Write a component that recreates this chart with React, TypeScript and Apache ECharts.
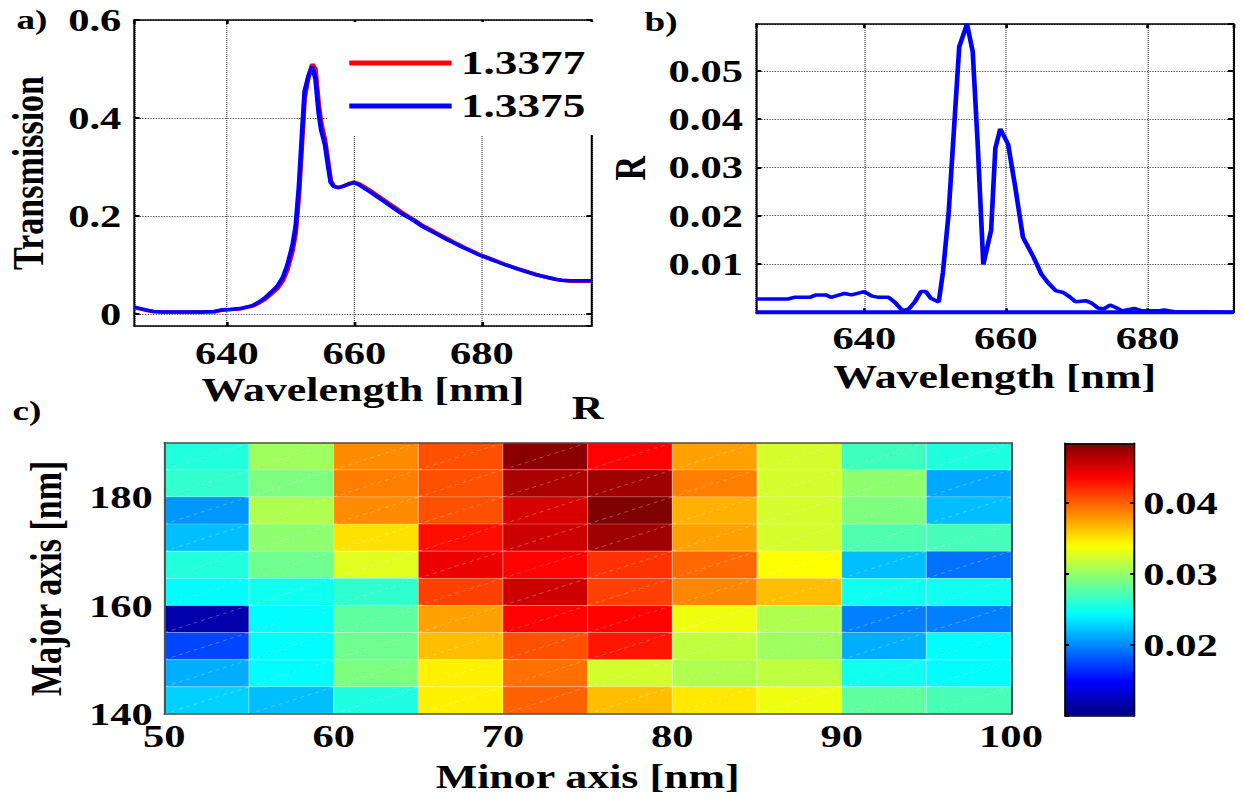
import React, { useEffect, useRef } from 'react';
import * as echarts from 'echarts';

// ---------- data ----------
const wavelengthA = [625.5, 626.5, 627.5, 628.5, 630, 632, 634, 636, 638, 639, 640.5, 642, 643, 644, 645, 646, 647, 648, 648.8, 649.5, 650.3, 650.8, 651.3, 651.8, 652.2, 652.8, 653.4, 653.9, 654.4, 654.8, 655.4, 655.9, 656.3, 656.8, 657.5, 658.3, 659.1, 659.9, 660.7, 661.5, 662.5, 663.5, 664.5, 665.5, 666.5, 667.5, 668.5, 669.5, 670.5, 671.5, 672.5, 673.5, 674.5, 675.5, 676.5, 677.5, 678.5, 679.5, 680.5, 681.5, 682.5, 683.5, 684.5, 685.5, 686.5, 687.5, 688.5, 689.5, 690.5, 691.5, 692.5, 694, 697.2];
const transmission13377 = [0.013, 0.010, 0.007, 0.005, 0.004, 0.004, 0.004, 0.004, 0.004, 0.007, 0.009, 0.010, 0.013, 0.016, 0.022, 0.030, 0.041, 0.053, 0.068, 0.090, 0.128, 0.165, 0.240, 0.350, 0.440, 0.485, 0.510, 0.500, 0.430, 0.390, 0.355, 0.310, 0.272, 0.261, 0.258, 0.261, 0.266, 0.269, 0.266, 0.260, 0.252, 0.243, 0.234, 0.225, 0.216, 0.207, 0.199, 0.191, 0.182, 0.175, 0.168, 0.161, 0.154, 0.147, 0.141, 0.134, 0.128, 0.122, 0.117, 0.112, 0.107, 0.102, 0.097, 0.093, 0.089, 0.085, 0.081, 0.077, 0.074, 0.071, 0.069, 0.067, 0.067];
const transmission13375 = [0.014, 0.011, 0.008, 0.005, 0.004, 0.004, 0.004, 0.004, 0.005, 0.008, 0.009, 0.011, 0.014, 0.017, 0.024, 0.033, 0.045, 0.058, 0.075, 0.100, 0.140, 0.180, 0.260, 0.370, 0.455, 0.485, 0.505, 0.480, 0.410, 0.375, 0.345, 0.300, 0.268, 0.260, 0.258, 0.261, 0.265, 0.268, 0.264, 0.257, 0.249, 0.240, 0.231, 0.222, 0.213, 0.204, 0.197, 0.189, 0.180, 0.173, 0.166, 0.159, 0.152, 0.146, 0.139, 0.133, 0.127, 0.121, 0.116, 0.111, 0.106, 0.101, 0.097, 0.092, 0.088, 0.084, 0.080, 0.077, 0.074, 0.071, 0.069, 0.068, 0.068];
const legendNames = ['1.3377', '1.3375'];

const wavelengthB = [624.7, 629.2, 630.1, 632.3, 633.2, 634.6, 635.3, 637.2, 638.2, 640.0, 641.0, 642.0, 643.4, 644.3, 645.4, 646.3, 647.1, 648.0, 648.7, 649.4, 650.5, 651.1, 651.9, 653.4, 654.5, 655.3, 656.0, 656.8, 657.9, 658.5, 659.2, 660.3, 661.3, 662.4, 663.8, 665.0, 665.9, 667.0, 668.1, 669.0, 669.8, 671.3, 672.1, 673.0, 673.8, 674.7, 675.5, 676.4, 678.1, 679.2, 681.5, 682.3, 683.8, 692.1];
const reflectanceB = [0.00275, 0.00275, 0.0031, 0.0031, 0.0036, 0.0036, 0.0031, 0.0039, 0.0036, 0.0043, 0.0034, 0.0031, 0.0031, 0.0021, 0.0003, 0.0007, 0.0021, 0.0043, 0.0043, 0.0029, 0.0021, 0.0083, 0.0205, 0.055, 0.0597, 0.054, 0.035, 0.0099, 0.017, 0.034, 0.038, 0.0348, 0.026, 0.0155, 0.0117, 0.0079, 0.0062, 0.0045, 0.0041, 0.0032, 0.0022, 0.0024, 0.0019, 0.0009, 0.0007, 0.0015, 0.001, 0.0003, 0.0008, 0.0003, 0.0003, 0.0005, 0.0001, 0];
const baselineWavelength = [624.7, 692.1];
const baselineR = [0, 0];

const minorAxisStart = [50, 55, 60, 65, 70, 75, 80, 85, 90, 95];
const majorAxisStart = [185, 180, 175, 170, 165, 160, 155, 150, 145, 140];
const CELL = 5;
const heatR = [
  [0.0257, 0.0304, 0.0383, 0.0405, 0.0479, 0.0435, 0.0375, 0.0323, 0.0268, 0.0256],
  [0.0263, 0.0292, 0.0388, 0.0405, 0.0467, 0.0471, 0.0388, 0.0323, 0.0298, 0.0212],
  [0.0206, 0.0310, 0.0383, 0.0405, 0.0450, 0.0483, 0.0369, 0.0323, 0.0292, 0.0220],
  [0.0220, 0.0298, 0.0351, 0.0430, 0.0454, 0.0471, 0.0375, 0.0323, 0.0274, 0.0271],
  [0.0257, 0.0286, 0.0328, 0.0442, 0.0435, 0.0417, 0.0396, 0.0340, 0.0220, 0.0191],
  [0.0244, 0.0250, 0.0262, 0.0411, 0.0454, 0.0411, 0.0385, 0.0364, 0.0250, 0.0250],
  [0.0117, 0.0244, 0.0280, 0.0375, 0.0435, 0.0435, 0.0334, 0.0310, 0.0197, 0.0197],
  [0.0175, 0.0244, 0.0286, 0.0364, 0.0405, 0.0427, 0.0316, 0.0304, 0.0214, 0.0244],
  [0.0214, 0.0244, 0.0292, 0.0345, 0.0393, 0.0323, 0.0310, 0.0316, 0.0250, 0.0244],
  [0.0227, 0.0220, 0.0256, 0.0345, 0.0399, 0.0364, 0.0348, 0.0334, 0.0280, 0.0271],
];
const colorMin = 0.0101;
const colorMax = 0.0483;
const JET = ['#00007f', '#0000ff', '#007fff', '#00ffff', '#7fff7f', '#ffff00', '#ff7f00', '#ff0000', '#7f0000'];

// ---------- layout helpers ----------
const W = 934;
const H = 798;
const S = 1242 / W; // horizontal stretch of the original figure
const px = (x: number) => x / S;
const FONT = "'Liberation Serif', 'Times New Roman', serif";

const axisLine = (color = '#000') => ({ show: true, onZero: false, lineStyle: { color, width: 1.5 } });
const tick = { show: true, inside: true, length: 4, lineStyle: { color: '#000', width: 2 } };
const gridLines = { show: true, lineStyle: { color: '#555', type: 'dotted', width: 1 } };
const lbl = (margin: number, extra: any = {}) => ({
  show: true, fontSize: 32, fontWeight: 'bold', fontFamily: FONT, color: '#000', margin,
  showMinLabel: false, showMaxLabel: false, ...extra,
});
const nameStyle = { fontSize: 33, fontWeight: 'bold', fontFamily: FONT, color: '#000' };

export default function App() {
  const ref = useRef<HTMLDivElement>(null);
  useEffect(() => {
    const chart = echarts.init(ref.current as HTMLDivElement, null, { renderer: 'svg' });

    const heatData: number[][] = [];
    majorAxisStart.forEach((y, r) => {
      minorAxisStart.forEach((x, c) => heatData.push([x, y, heatR[r][c]]));
    });

    const option: any = {
      animation: false,
      textStyle: { fontFamily: FONT, fontWeight: 'bold', color: '#000' },
      grid: [
        { left: px(134.3), top: 20, width: px(457.4), height: 306 },
        { left: px(756), top: 24, width: px(477.3), height: 288.3 },
        { left: px(164.3), top: 442.7, width: px(846.7), height: 271.3 },
        { left: px(1065), top: 443.3, width: px(69.3), height: 272.4 },
      ],
      xAxis: [
        {
          gridIndex: 0, type: 'value', position: 'bottom', min: 625.5, max: 697.2, minInterval: 20, maxInterval: 20,
          axisLine: axisLine(), axisTick: tick, axisLabel: lbl(11), splitLine: gridLines,
          name: 'Wavelength [nm]', nameLocation: 'middle', nameGap: 47, nameTextStyle: nameStyle,
        },
        {
          gridIndex: 0, type: 'value', position: 'top', min: 625.5, max: 697.2, minInterval: 20, maxInterval: 20,
          axisLine: axisLine(), axisTick: tick, axisLabel: { show: false }, splitLine: { show: false },
        },
        {
          gridIndex: 1, type: 'value', position: 'bottom', min: 624.7, max: 692.1, minInterval: 20, maxInterval: 20,
          axisLine: axisLine(), axisTick: tick, axisLabel: lbl(10), splitLine: gridLines,
          name: 'Wavelength [nm]', nameLocation: 'middle', nameGap: 48, nameTextStyle: nameStyle,
        },
        {
          gridIndex: 1, type: 'value', position: 'top', min: 624.7, max: 692.1, minInterval: 20, maxInterval: 20,
          axisLine: axisLine(), axisTick: tick, axisLabel: { show: false }, splitLine: { show: false },
        },
        {
          gridIndex: 2, type: 'value', position: 'bottom', min: 50, max: 100, interval: 10, z: 5,
          axisLine: axisLine('#4d4d4d'), axisTick: { show: false },
          axisLabel: lbl(6, { showMinLabel: true, showMaxLabel: true }), splitLine: { show: false },
          name: 'Minor axis [nm]', nameLocation: 'middle', nameGap: 46, nameTextStyle: nameStyle,
        },
        {
          gridIndex: 2, type: 'value', position: 'top', min: 50, max: 100, interval: 10, z: 5,
          axisLine: axisLine('#4d4d4d'), axisTick: { show: false }, axisLabel: { show: false }, splitLine: { show: false },
        },
        {
          gridIndex: 3, type: 'value', position: 'bottom', min: 0, max: 1, z: 5,
          axisLine: axisLine(), axisTick: { show: false }, axisLabel: { show: false }, splitLine: { show: false },
        },
        {
          gridIndex: 3, type: 'value', position: 'top', min: 0, max: 1, z: 5,
          axisLine: axisLine(), axisTick: { show: false }, axisLabel: { show: false }, splitLine: { show: false },
        },
      ],
      yAxis: [
        {
          gridIndex: 0, type: 'value', position: 'left', min: -0.0245, max: 0.6, minInterval: 0.2, maxInterval: 0.2,
          axisLine: axisLine(), axisTick: tick, axisLabel: lbl(px(13), { showMaxLabel: true }), splitLine: gridLines,
          name: 'Transmission', nameLocation: 'middle', nameRotate: 90, nameGap: 63, nameTextStyle: { ...nameStyle, fontSize: 34 },
        },
        {
          gridIndex: 0, type: 'value', position: 'right', min: -0.0245, max: 0.6, minInterval: 0.2, maxInterval: 0.2,
          axisLine: axisLine(), axisTick: tick, axisLabel: { show: false }, splitLine: { show: false },
        },
        {
          gridIndex: 1, type: 'value', position: 'left', min: 0, max: 0.0597, minInterval: 0.01, maxInterval: 0.01,
          axisLine: axisLine(), axisTick: tick, axisLabel: lbl(px(13)), splitLine: gridLines,
          name: 'R', nameLocation: 'middle', nameRotate: 90, nameGap: 78, nameTextStyle: { ...nameStyle, fontSize: 34 },
        },
        {
          gridIndex: 1, type: 'value', position: 'right', min: 0, max: 0.0597, minInterval: 0.01, maxInterval: 0.01,
          axisLine: axisLine(), axisTick: tick, axisLabel: { show: false }, splitLine: { show: false },
        },
        {
          gridIndex: 2, type: 'value', position: 'left', min: 140, max: 190, interval: 20, z: 5,
          axisLine: axisLine('#4d4d4d'), axisTick: { show: false },
          axisLabel: lbl(px(11.6), { showMinLabel: true }), splitLine: { show: false },
          name: 'Major axis [nm]', nameLocation: 'middle', nameRotate: 90, nameGap: 72, nameTextStyle: { ...nameStyle, fontSize: 34 },
        },
        {
          gridIndex: 2, type: 'value', position: 'right', min: 140, max: 190, interval: 20, z: 5,
          axisLine: axisLine('#4d4d4d'), axisTick: { show: false }, axisLabel: { show: false }, splitLine: { show: false },
        },
        {
          gridIndex: 3, type: 'value', position: 'right', min: colorMin, max: colorMax, minInterval: 0.01, maxInterval: 0.01, z: 5,
          axisLine: axisLine(), axisTick: { show: true, inside: true, length: 3, lineStyle: { color: '#000', width: 2 } },
          axisLabel: lbl(px(9), { formatter: (v: number) => v.toFixed(2) }), splitLine: { show: false },
        },
        {
          gridIndex: 3, type: 'value', position: 'left', min: colorMin, max: colorMax, minInterval: 0.01, maxInterval: 0.01, z: 5,
          axisLine: axisLine(), axisTick: { show: true, inside: true, length: 3, lineStyle: { color: '#000', width: 2 } },
          axisLabel: { show: false }, splitLine: { show: false },
        },
      ],
      legend: {
        data: legendNames,
        orient: 'vertical',
        left: px(328), top: 22,
        padding: [24, 12, 12, 16],
        backgroundColor: '#fff',
        icon: 'rect',
        itemWidth: 77, itemHeight: 5, itemGap: 9,
        selectedMode: false,
        textStyle: { fontSize: 34, fontWeight: 'bold', fontFamily: FONT, color: '#000', padding: [0, 0, 0, 2] },
      },
      visualMap: {
        type: 'continuous', seriesIndex: 4, dimension: 2, min: colorMin, max: colorMax,
        inRange: { color: JET }, calculable: false, show: true, orient: 'vertical',
        left: px(1065), top: 443.3, itemWidth: px(69.3), itemHeight: 272.4, padding: 0,
        hoverLink: false, text: null,
      },
      series: [
        {
          name: legendNames[0], type: 'line', xAxisIndex: 0, yAxisIndex: 0, symbol: 'none',
          lineStyle: { color: '#ff0000', width: 3.5 }, itemStyle: { color: '#ff0000' },
          data: wavelengthA.map((w, i) => [w, transmission13377[i]]),
        },
        {
          name: legendNames[1], type: 'line', xAxisIndex: 0, yAxisIndex: 0, symbol: 'none',
          lineStyle: { color: '#0000ff', width: 3.5 }, itemStyle: { color: '#0000ff' },
          data: wavelengthA.map((w, i) => [w, transmission13375[i]]),
        },
        {
          type: 'line', xAxisIndex: 2, yAxisIndex: 2, symbol: 'none',
          lineStyle: { color: '#0000ff', width: 3.5 }, itemStyle: { color: '#0000ff' },
          data: wavelengthB.map((w, i) => [w, reflectanceB[i]]),
        },
        {
          type: 'line', xAxisIndex: 2, yAxisIndex: 2, symbol: 'none', clip: false,
          lineStyle: { color: '#0000ff', width: 4 }, itemStyle: { color: '#0000ff' },
          data: baselineWavelength.map((w, i) => [w, baselineR[i]]),
        },
        {
          type: 'custom', xAxisIndex: 4, yAxisIndex: 4,
          data: heatData,
          renderItem: (params: any, api: any) => {
            const x = api.value(0);
            const y = api.value(1);
            const p0 = api.coord([x, y + CELL]);
            const p1 = api.coord([x + CELL, y]);
            const fill = api.visual('color');
            return {
              type: 'group',
              children: [
                {
                  type: 'rect',
                  shape: { x: p0[0], y: p0[1], width: p1[0] - p0[0], height: p1[1] - p0[1] },
                  style: { fill, stroke: 'rgba(255,255,255,0.28)', lineWidth: 0.8 },
                },
                {
                  type: 'line',
                  shape: { x1: p0[0], y1: p1[1], x2: p1[0], y2: p0[1] },
                  style: { stroke: 'rgba(255,255,255,0.35)', lineWidth: 0.7, lineDash: [3, 3] },
                },
              ],
            };
          },
        },
      ],
      graphic: [
        { type: 'text', x: px(32), y: 20, style: { text: 'a)', font: `bold 28px ${FONT}`, fill: '#000', textAlign: 'center', textVerticalAlign: 'middle' } },
        { type: 'text', x: px(661), y: 22, style: { text: 'b)', font: `bold 28px ${FONT}`, fill: '#000', textAlign: 'center', textVerticalAlign: 'middle' } },
        { type: 'text', x: px(27), y: 411, style: { text: 'c)', font: `bold 28px ${FONT}`, fill: '#000', textAlign: 'center', textVerticalAlign: 'middle' } },
        { type: 'text', x: px(587.5), y: 408, style: { text: 'R', font: `bold 33px ${FONT}`, fill: '#000', textAlign: 'center', textVerticalAlign: 'middle' } },
      ],
    };

    chart.setOption(option);
    return () => chart.dispose();
  }, []);

  return (
    <div
      ref={ref}
      style={{
        position: 'absolute', left: 0, top: 0, width: W, height: H,
        transform: `scaleX(${S})`, transformOrigin: '0 0',
      }}
    />
  );
}
